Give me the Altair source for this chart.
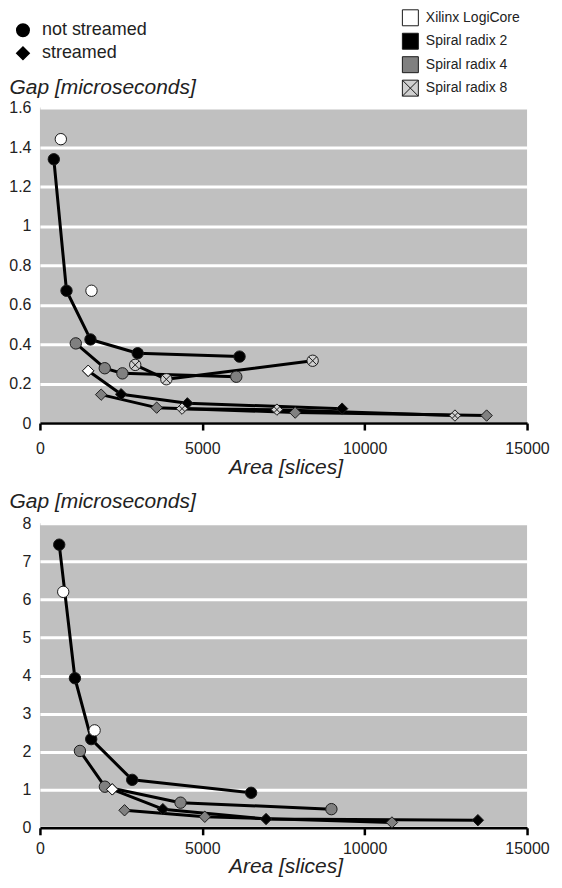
import altair as alt
import pandas as pd

SERIES = ["Xilinx LogiCore", "Spiral radix 2", "Spiral radix 4", "Spiral radix 8"]
FILLS = ["#ffffff", "#000000", "#808080", "#d0d0d0"]
MODES = ["not streamed", "streamed"]
X_TICKS = [0, 5000, 10000, 15000]
TOP_Y_TICKS = [0, 0.2, 0.4, 0.6, 0.8, 1, 1.2, 1.4, 1.6]
BOT_Y_TICKS = [0, 1, 2, 3, 4, 5, 6, 7, 8]

# ---- top chart values (area in slices, gap in microseconds)
t_r2_ns_x = [427, 818, 1556, 3010, 6147]
t_r2_ns_y = [1.338, 0.671, 0.424, 0.354, 0.337]
t_r4_ns_x = [1104, 1996, 2540, 6046]
t_r4_ns_y = [0.404, 0.278, 0.252, 0.235]
t_r8_ns_x = [2934, 3893, 8398]
t_r8_ns_y = [0.295, 0.222, 0.316]
t_r2_s_x = [1485, 2500, 4539, 9305]
t_r2_s_y = [0.265, 0.146, 0.100, 0.073]
t_r4_s_x = [1885, 3595, 7860, 13755]
t_r4_s_y = [0.144, 0.078, 0.053, 0.038]
t_r8_s_x = [4376, 7297, 12780]
t_r8_s_y = [0.073, 0.068, 0.038]
t_xil_ns_x = [643, 1587]
t_xil_ns_y = [1.44, 0.671]
t_xil_s_x = [1485]
t_xil_s_y = [0.265]

# ---- bottom chart values
b_r2_ns_x = [594, 1077, 1579, 2841, 6503]
b_r2_ns_y = [7.44, 3.93, 2.33, 1.26, 0.92]
b_r4_ns_x = [1231, 2000, 4329, 8975]
b_r4_ns_y = [2.02, 1.08, 0.66, 0.49]
b_r2_s_x = [2226, 3785, 6963, 13486]
b_r2_s_y = [1.01, 0.49, 0.23, 0.20]
b_r4_s_x = [2605, 5077, 10840]
b_r4_s_y = [0.46, 0.29, 0.14]
b_xil_ns_x = [717, 1683]
b_xil_ns_y = [6.20, 2.56]
b_xil_s_x = [2226]
b_xil_s_y = [1.01]


def frame(parts):
    rows = []
    i = 0
    for series, mode, xs, ys, line in parts:
        for x, y in zip(xs, ys):
            rows.append({"x": x, "y": y, "series": series, "mode": mode,
                         "key": series + "|" + mode, "line": line, "idx": i})
            i += 1
    return pd.DataFrame(rows)


top_df = frame([
    ("Spiral radix 2", "not streamed", t_r2_ns_x, t_r2_ns_y, True),
    ("Spiral radix 4", "not streamed", t_r4_ns_x, t_r4_ns_y, True),
    ("Spiral radix 8", "not streamed", t_r8_ns_x, t_r8_ns_y, True),
    ("Spiral radix 2", "streamed", t_r2_s_x, t_r2_s_y, True),
    ("Spiral radix 4", "streamed", t_r4_s_x, t_r4_s_y, True),
    ("Spiral radix 8", "streamed", t_r8_s_x, t_r8_s_y, True),
    ("Xilinx LogiCore", "not streamed", t_xil_ns_x, t_xil_ns_y, False),
    ("Xilinx LogiCore", "streamed", t_xil_s_x, t_xil_s_y, False),
])

bot_df = frame([
    ("Spiral radix 2", "not streamed", b_r2_ns_x, b_r2_ns_y, True),
    ("Spiral radix 4", "not streamed", b_r4_ns_x, b_r4_ns_y, True),
    ("Spiral radix 2", "streamed", b_r2_s_x, b_r2_s_y, True),
    ("Spiral radix 4", "streamed", b_r4_s_x, b_r4_s_y, True),
    ("Xilinx LogiCore", "not streamed", b_xil_ns_x, b_xil_ns_y, False),
    ("Xilinx LogiCore", "streamed", b_xil_s_x, b_xil_s_y, False),
])

FONT = "Liberation Sans"
TXT = "#222222"
MSIZE = 130
X_CROSS = "M-0.7,-0.7L0.7,0.7M-0.7,0.7L0.7,-0.7"
X_CROSS_D = "M-0.5,-0.5L0.5,0.5M-0.5,0.5L0.5,-0.5"
SQ_CROSS = "M-1,-1H1V1H-1Z M-1,-1L1,1 M-1,1L1,-1"


def panel(df, ymax, yticks, height, show_legend, gap_title_y, x_label_pad, x_title_y):
    x = alt.X("x:Q", scale=alt.Scale(domain=[0, 15000], nice=False),
              axis=alt.Axis(values=X_TICKS, format="d", title="Area [slices]",
                            grid=False, domain=True, domainColor="black", domainWidth=2.5,
                            ticks=True, tickColor="black", tickWidth=2.5, tickSize=7,
                            labelPadding=x_label_pad, labelFlush=False, labelOverlap=False,
                            titleY=x_title_y, titleX=246, titleBaseline="middle"))
    y = alt.Y("y:Q", scale=alt.Scale(domain=[0, ymax], nice=False),
              axis=alt.Axis(values=yticks, format="~g", title="Gap [microseconds]",
                            grid=True, gridColor="white", gridWidth=3,
                            domain=False, ticks=False, labelPadding=9,
                            labelOverlap=False, labelFlush=False,
                            titleAngle=0, titleAlign="left", titleBaseline="middle",
                            titleX=-31, titleY=gap_title_y))
    if show_legend:
        shape_legend = alt.Legend(title=None, orient="none", legendX=-26, legendY=-86.5,
                                  symbolSize=156, symbolFillColor="#000000",
                                  symbolStrokeColor="#000000", labelFontSize=18,
                                  labelOffset=10, rowPadding=3, padding=0,
                                  labelFont=FONT, labelColor=TXT)
    else:
        shape_legend = None

    lines = alt.Chart(df).transform_filter("datum.line").mark_line(
        color="black", strokeWidth=3, strokeJoin="round").encode(
        x=x, y=y, detail="key:N", order="idx:Q")
    pts = alt.Chart(df).mark_point(filled=True, size=MSIZE, stroke="#1a1a1a",
                                   strokeWidth=1, opacity=1).encode(
        x=x, y=y,
        shape=alt.Shape("mode:N", scale=alt.Scale(domain=MODES, range=["circle", "diamond"]),
                        legend=shape_legend),
        fill=alt.Fill("series:N", scale=alt.Scale(domain=SERIES, range=FILLS), legend=None),
    )
    cross_c = alt.Chart(df).transform_filter(
        "datum.series === 'Spiral radix 8' && datum.mode === 'not streamed'").mark_point(
        shape=X_CROSS, filled=False, size=MSIZE, stroke="#1a1a1a", strokeWidth=1, opacity=1
    ).encode(x=x, y=y)
    cross_d = alt.Chart(df).transform_filter(
        "datum.series === 'Spiral radix 8' && datum.mode === 'streamed'").mark_point(
        shape=X_CROSS_D, filled=False, size=MSIZE, stroke="#1a1a1a", strokeWidth=1, opacity=1
    ).encode(x=x, y=y)
    layers = [lines, pts, cross_c, cross_d]
    if show_legend:
        fill_legend = alt.Legend(title=None, orient="none", legendX=362.6, legendY=-98.5,
                                 symbolSize=256, symbolStrokeColor="#1a1a1a",
                                 symbolStrokeWidth=1, labelFontSize=14, labelOffset=7,
                                 rowPadding=2.5, padding=0, labelFont=FONT, labelColor=TXT)
        leg = alt.Chart(df).transform_filter("false").mark_point(
            filled=True, size=MSIZE, strokeWidth=1, opacity=1).encode(
            x=x, y=y,
            fill=alt.Fill("series:N", scale=alt.Scale(domain=SERIES, range=FILLS),
                          legend=fill_legend),
            shape=alt.Shape("series:N", scale=alt.Scale(
                domain=SERIES, range=["square", "square", "square", SQ_CROSS]),
                legend=fill_legend),
            stroke=alt.Stroke("series:N", scale=alt.Scale(
                domain=SERIES, range=["#1a1a1a", "#1a1a1a", "#1a1a1a", "#1a1a1a"]),
                legend=fill_legend),
        )
        layers.append(leg)
    return alt.layer(*layers).resolve_scale(
        shape="independent", fill="independent", stroke="independent"
    ).properties(width=488, height=height)


top = panel(top_df, 1.6, TOP_Y_TICKS, 316, True, -20, 10.5, 44.5)
bottom = panel(bot_df, 8, BOT_Y_TICKS, 305, False, -22, 6, 39)

chart = alt.vconcat(top, bottom, spacing=100.5, bounds="flush").resolve_scale(
    fill="independent", shape="independent", x="independent", y="independent"
).properties(
    padding={"left": 0, "top": 0, "right": 4, "bottom": 4}
).configure_view(
    fill="#c0c0c0", stroke=None
).configure_axis(
    labelFont=FONT, labelFontSize=16, labelColor=TXT,
    titleFont=FONT, titleFontSize=21, titleFontStyle="italic", titleFontWeight="normal",
    titleColor=TXT
)

chart.save("out.html", embed_options={"renderer": "svg", "actions": False})
